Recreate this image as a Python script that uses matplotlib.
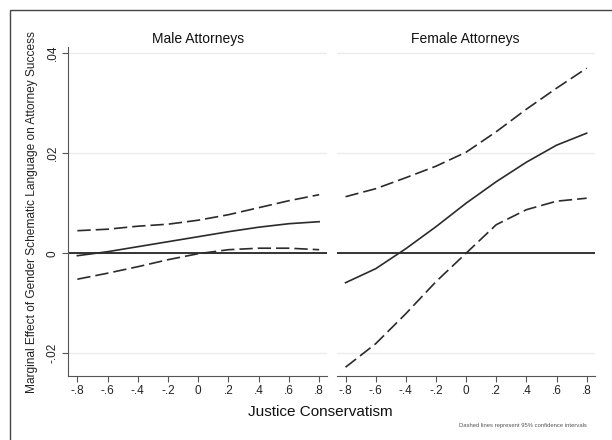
import matplotlib
matplotlib.use("Agg")
import matplotlib.pyplot as plt
from matplotlib.patches import Rectangle

plt.rcParams['font.family'] = ['Liberation Sans', 'DejaVu Sans']

# Justice conservatism values where the margins were read
x = [-0.8, -0.6, -0.4, -0.2, 0.0, 0.2, 0.4, 0.6, 0.8]
tick_labels = ["-.8", "-.6", "-.4", "-.2", "0", ".2", ".4", ".6", ".8"]

# Male attorneys: marginal effect and 95% CI
male_me = [-0.0005, 0.0003, 0.0013, 0.0023, 0.0033, 0.0043, 0.0052, 0.0059, 0.0063]
male_hi = [0.0045, 0.0048, 0.0054, 0.0058, 0.0066, 0.0077, 0.0091, 0.0105, 0.0117]
male_lo = [-0.0052, -0.0040, -0.0027, -0.0013, -0.0001, 0.0007, 0.0010, 0.0010, 0.0007]

# Female attorneys
fem_me = [-0.0059, -0.0031, 0.0009, 0.0053, 0.0100, 0.0143, 0.0182, 0.0216, 0.0240]
fem_hi = [0.0113, 0.0129, 0.0151, 0.0174, 0.0202, 0.0243, 0.0288, 0.0330, 0.0370]
fem_lo = [-0.0228, -0.0181, -0.0121, -0.0057, 0.0000, 0.0057, 0.0087, 0.0104, 0.0110]

yticks = [-0.02, 0, 0.02, 0.04]
ytick_labels = ["-.02", "0", ".02", ".04"]

fig = plt.figure(figsize=(6.12, 4.40), dpi=100)
fig.patch.set_facecolor("white")

# outer frame (only left and top visible in the reference)
fig.patches.append(Rectangle((10/612, -0.05), 1.1, 1 - 10/440 + 0.05,
                             transform=fig.transFigure, fill=False,
                             edgecolor="#444444", lw=1.0, zorder=0))

ax1 = fig.add_axes([68.3/612, 1 - 375.7/440, 258.7/612, 329/440])
ax2 = fig.add_axes([336.5/612, 1 - 375.7/440, 258/612, 329/440])

line_col = "#2b2b2b"
panels = [(ax1, "Male Attorneys", male_me, male_hi, male_lo),
          (ax2, "Female Attorneys", fem_me, fem_hi, fem_lo)]

for ax, title, me, hi, lo in panels:
    ax.set_xlim(-0.86, 0.852)
    ax.set_ylim(-0.0245, 0.0413)
    for yv in yticks:
        ax.axhline(yv, color="#ececec", lw=1.0, zorder=0)
    ax.axhline(0, color="black", lw=1.1, zorder=2)
    ax.plot(x, me, color=line_col, lw=1.2, zorder=3)
    ax.plot(x, hi, color=line_col, lw=1.2, dashes=(8, 3), zorder=3)
    ax.plot(x, lo, color=line_col, lw=1.2, dashes=(8, 3), zorder=3)
    ax.set_title(title, fontsize=10, pad=3, color="#111111")
    ax.set_xticks(x)
    ax.set_xticklabels(tick_labels)
    ax.tick_params(axis="x", length=4, width=0.8, color="#555555",
                   labelsize=8.5, pad=3, labelcolor="#222222")
    for s in ["top", "right"]:
        ax.spines[s].set_visible(False)
    ax.spines["bottom"].set_color("#555555")
    ax.spines["bottom"].set_linewidth(0.8)

ax1.set_yticks(yticks)
ax1.set_yticklabels(ytick_labels, rotation=90, va="center")
ax1.tick_params(axis="y", length=4, width=0.8, color="#555555",
                labelsize=8.5, pad=3, labelcolor="#222222")
ax1.spines["left"].set_color("#555555")
ax1.spines["left"].set_linewidth(0.8)

ax2.spines["left"].set_visible(False)
ax2.set_yticks([])

fig.text(32/612, 1 - 212/440,
         "Marginal Effect of Gender Schematic Language on Attorney Success",
         rotation=90, ha="center", va="center", fontsize=8.6, color="#222222")
fig.text(320/612, 1 - 412/440, "Justice Conservatism",
         ha="center", va="center", fontsize=11, color="#111111")
fig.text(587/612, 1 - 425/440, "Dashed lines represent 95% confidence intervals",
         ha="right", va="center", fontsize=4.2, color="#555555")

fig.savefig("out.png", dpi=100)
